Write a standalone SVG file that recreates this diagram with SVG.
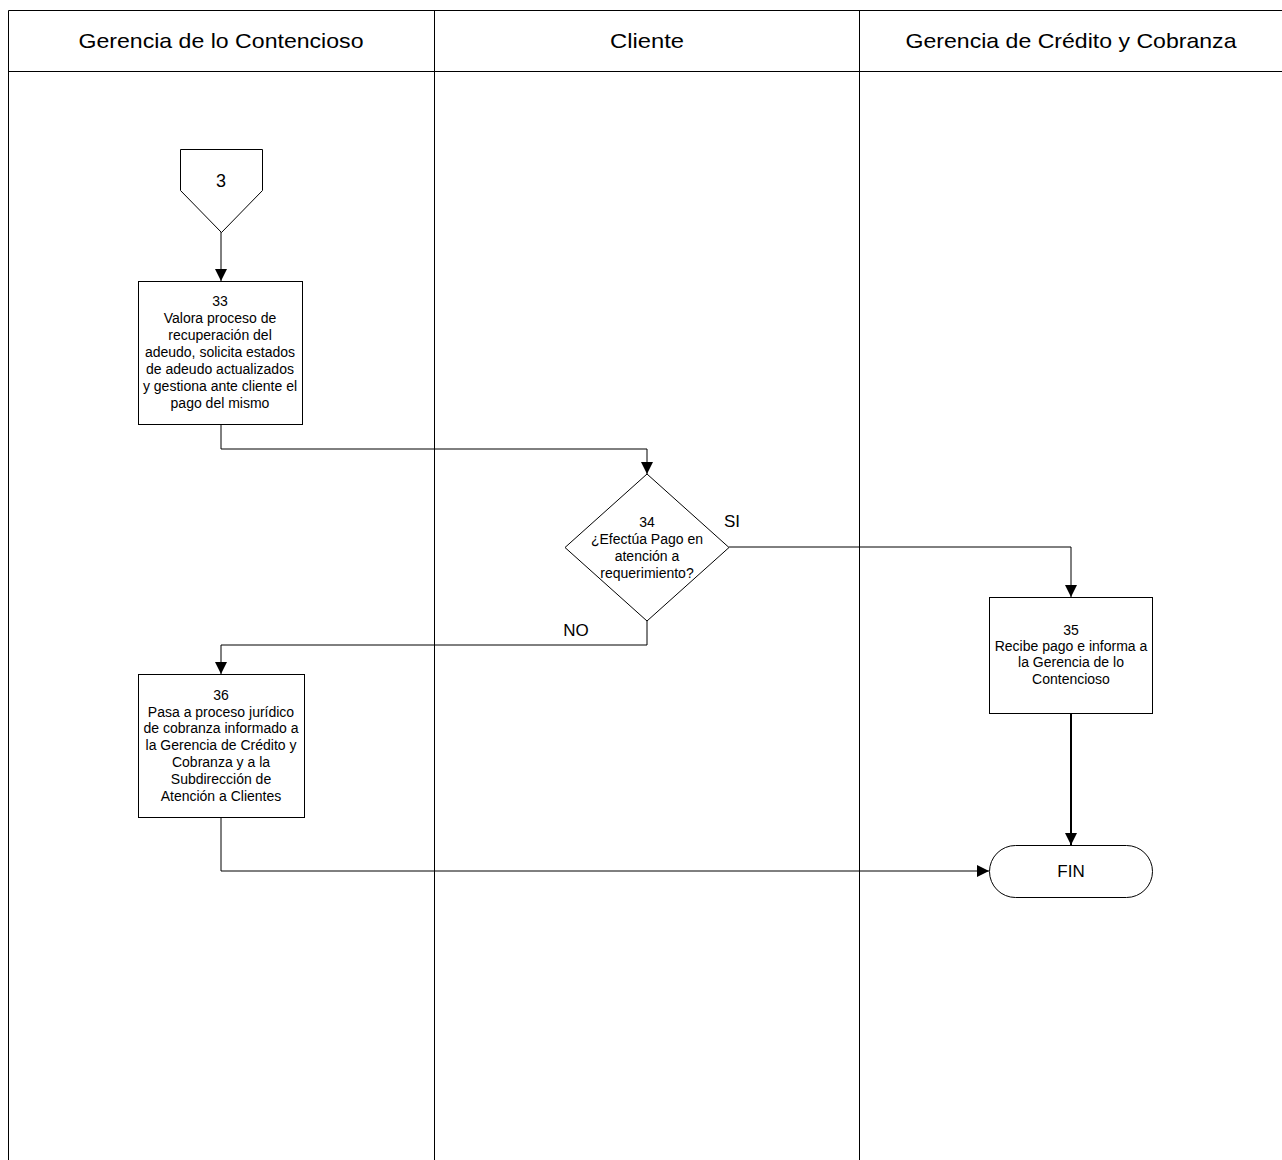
<svg xmlns="http://www.w3.org/2000/svg" width="1282" height="1160" viewBox="0 0 1282 1160">
<defs>
<style>
.ln{fill:none;stroke:#000;stroke-width:1}
.sh{fill:#fff;stroke:#000;stroke-width:1}
.hd{font-family:"Liberation Sans",Arial,sans-serif;font-size:21px;fill:#000;text-anchor:middle}
.tx{font-family:"Liberation Sans",Arial,sans-serif;font-size:14px;fill:#000;text-anchor:middle}
.lg{font-family:"Liberation Sans",Arial,sans-serif;font-size:17px;fill:#000;text-anchor:middle}
</style>
<marker id="ah" viewBox="0 0 10 10" refX="10" refY="5" markerWidth="12" markerHeight="12" markerUnits="userSpaceOnUse" orient="auto">
<path d="M0,0 L10,5 L0,10 Z" fill="#000"/>
</marker>
</defs>
<rect width="1282" height="1160" fill="#fff"/>
<g id="lanes">
<path class="ln" d="M8.5,1160 V10.5 H1282 M8.5,71.5 H1282 M434.5,10 V1160 M859.5,10 V1160"/>
<text class="hd" x="221" y="48" textLength="285" lengthAdjust="spacingAndGlyphs">Gerencia de lo Contencioso</text>
<text class="hd" x="647" y="48" textLength="74" lengthAdjust="spacingAndGlyphs">Cliente</text>
<text class="hd" x="1071" y="48" textLength="331" lengthAdjust="spacingAndGlyphs">Gerencia de Crédito y Cobranza</text>
</g>
<g id="connectors">
<path class="ln" d="M221,232 V281" marker-end="url(#ah)"/>
<path class="ln" d="M221,424 V449 H647 V474" marker-end="url(#ah)"/>
<path class="ln" d="M729,547 H1071 V597" marker-end="url(#ah)"/>
<path class="ln" d="M647,621 V645 H221 V674" marker-end="url(#ah)"/>
<path class="ln" d="M1071,713 V845" marker-end="url(#ah)" style="stroke-width:2"/>
<path class="ln" d="M221,817 V871 H989" marker-end="url(#ah)"/>
<text class="lg" x="732" y="527">SI</text>
<text class="lg" x="576" y="636">NO</text>
</g>
<g id="n3">
<path class="sh" d="M180.5,149.5 H262.5 V190.5 L221.5,232.5 L180.5,190.5 Z"/>
<text class="lg" x="221" y="187" style="font-size:18px">3</text>
</g>
<g id="n33">
<rect class="sh" x="138.5" y="281.5" width="164" height="143"/>
<text class="tx"><tspan x="220" y="306">33</tspan><tspan x="220" y="323">Valora proceso de</tspan><tspan x="220" y="340">recuperación del</tspan><tspan x="220" y="357">adeudo, solicita estados</tspan><tspan x="220" y="374">de adeudo actualizados</tspan><tspan x="220" y="391">y gestiona ante cliente el</tspan><tspan x="220" y="408">pago del mismo</tspan></text>
</g>
<g id="n34">
<path class="sh" d="M647,474 L729,547.5 L647,621 L565,547.5 Z"/>
<text class="tx"><tspan x="647" y="527">34</tspan><tspan x="647" y="544">¿Efectúa Pago en</tspan><tspan x="647" y="561">atención a</tspan><tspan x="647" y="578">requerimiento?</tspan></text>
</g>
<g id="n35">
<rect class="sh" x="989.5" y="597.5" width="163" height="116"/>
<text class="tx"><tspan x="1071" y="635">35</tspan><tspan x="1071" y="651">Recibe pago e informa a</tspan><tspan x="1071" y="667">la Gerencia de lo</tspan><tspan x="1071" y="684">Contencioso</tspan></text>
</g>
<g id="n36">
<rect class="sh" x="138.5" y="674.5" width="166" height="143"/>
<text class="tx"><tspan x="221" y="700">36</tspan><tspan x="221" y="717">Pasa a proceso jurídico</tspan><tspan x="221" y="733">de cobranza informado a</tspan><tspan x="221" y="750">la Gerencia de Crédito y</tspan><tspan x="221" y="767">Cobranza y a la</tspan><tspan x="221" y="784">Subdirección de</tspan><tspan x="221" y="801">Atención a Clientes</tspan></text>
</g>
<g id="fin">
<rect class="sh" x="989.5" y="845.5" width="163" height="52" rx="26" ry="26"/>
<text class="lg" x="1071" y="877">FIN</text>
</g>
</svg>
